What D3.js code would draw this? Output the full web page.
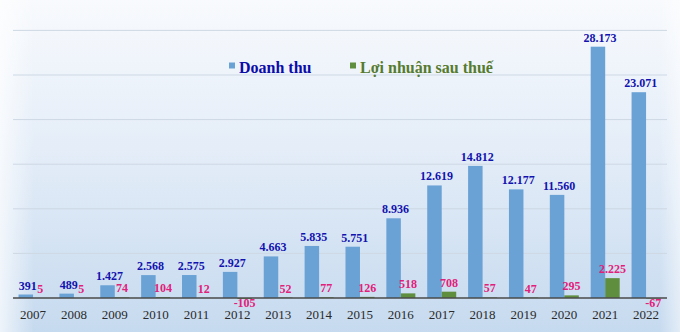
<!DOCTYPE html>
<html><head><meta charset="utf-8">
<script src="https://cdn.jsdelivr.net/npm/d3@7"></script>
<style>html,body{margin:0;padding:0;overflow:hidden;}svg{display:block;}</style>
</head><body>
<script>
const years = ["2007","2008","2009","2010","2011","2012","2013","2014","2015","2016","2017","2018","2019","2020","2021","2022"];
const doanhThu = [391,489,1427,2568,2575,2927,4663,5835,5751,8936,12619,14812,12177,11560,28173,23071];
const loiNhuan = [5,5,74,104,12,-105,52,77,126,518,708,57,47,295,2225,-67];
const gridTicks = [5000,10000,15000,20000,25000,30000];
const seriesNames = ["Doanh thu","Lợi nhuận sau thuế"];

const W = 680, H = 332;
const svg = d3.select("body").append("svg").attr("width", W).attr("height", H);
const defs = svg.append("defs");
const lg = defs.append("linearGradient").attr("id","bg").attr("x1",0).attr("y1",0).attr("x2",0).attr("y2",1);
lg.append("stop").attr("offset","0%").attr("stop-color","#f8fafd");
lg.append("stop").attr("offset","45%").attr("stop-color","#e4edf8");
lg.append("stop").attr("offset","100%").attr("stop-color","#c6daef");
const lh = defs.append("linearGradient").attr("id","bgl").attr("x1",0).attr("y1",0).attr("x2",1).attr("y2",0);
lh.append("stop").attr("offset","0%").attr("stop-color","#ffffff").attr("stop-opacity",0.7);
lh.append("stop").attr("offset","5%").attr("stop-color","#ffffff").attr("stop-opacity",0);
lh.append("stop").attr("offset","97%").attr("stop-color","#ffffff").attr("stop-opacity",0);
lh.append("stop").attr("offset","100%").attr("stop-color","#ffffff").attr("stop-opacity",0.5);
svg.append("rect").attr("width",W).attr("height",H).attr("fill","url(#bg)");
svg.append("rect").attr("width",W).attr("height",H).attr("fill","url(#bgl)");

const x = d3.scaleBand().domain(years).range([12.6, 666.5]).padding(0);
const bw = x.bandwidth();
const xs = d3.scaleBand().domain(["dt","ln"]).range([bw/2-14.5, bw/2+14.5]).padding(0);
const y = d3.scaleLinear().domain([0,30000]).range([298, 30.4]);

const serif = "'Liberation Serif','Times New Roman',Times,serif";

// grid
svg.append("g").selectAll("line").data(gridTicks).join("line")
  .attr("x1",13).attr("x2",667).attr("y1",d=>y(d)).attr("y2",d=>y(d))
  .attr("stroke","#cdd8e4").attr("stroke-width",1);

const data = years.map((yr,i)=>({yr, dt:doanhThu[i], ln:loiNhuan[i]}));

// bars
svg.append("g").selectAll("rect").data(data).join("rect")
  .attr("x",d=>x(d.yr)+xs("dt")).attr("width",xs.bandwidth())
  .attr("y",d=>y(d.dt)).attr("height",d=>y(0)-y(d.dt))
  .attr("fill","#6aa2d6");
svg.append("g").selectAll("rect").data(data).join("rect")
  .attr("x",d=>x(d.yr)+xs("ln")).attr("width",xs.bandwidth())
  .attr("y",d=>y(Math.max(0,d.ln))).attr("height",d=>Math.abs(y(0)-y(d.ln)))
  .attr("fill","#5f8e3e");

// baseline
svg.append("line").attr("x1",13).attr("x2",667).attr("y1",y(0)).attr("y2",y(0))
  .attr("stroke","#4a4a4a").attr("stroke-width",1.5);

const fmt = v => d3.format(",")(v).replace(/,/g,".").replace(/\u2212/g,"-");

// labels
svg.append("g").selectAll("text").data(data).join("text")
  .attr("x",d=>x(d.yr)+xs("dt")+xs.bandwidth()/2+2)
  .attr("y",d=>y(d.dt)-5)
  .attr("text-anchor","middle")
  .attr("font-family",serif)
  .attr("font-weight","bold").attr("font-size",12).attr("fill","#1212ae")
  .text(d=>fmt(d.dt));
svg.append("g").selectAll("text").data(data).join("text")
  .attr("x",d=>x(d.yr)+xs("ln")+xs.bandwidth()/2)
  .attr("y",d=>d.ln>=0 ? y(d.ln)-5 : y(0)+9)
  .attr("text-anchor","middle")
  .attr("font-family",serif)
  .attr("font-weight","bold").attr("font-size",12).attr("fill","#e2207a")
  .text(d=>fmt(d.ln));

// x axis labels
svg.append("g").selectAll("text").data(years).join("text")
  .attr("x",d=>x(d)+bw/2).attr("y",318.5)
  .attr("text-anchor","middle")
  .attr("font-family",serif)
  .attr("font-size",13).attr("fill","#2a2a2a")
  .text(d=>d);

// legend
const leg = [{name:seriesNames[0], c:"#6aa2d6", tc:"#0c0ca8", x:229},{name:seriesNames[1], c:"#5f8e3e", tc:"#567a2e", x:350}];
const lgG = svg.append("g").selectAll("g").data(leg).join("g");
lgG.append("rect").attr("x",d=>d.x).attr("y",62.5).attr("width",6).attr("height",6).attr("fill",d=>d.c);
lgG.append("text").attr("x",d=>d.x+10).attr("y",73)
  .attr("font-family",serif)
  .attr("font-weight","bold").attr("font-size",16).attr("fill",d=>d.tc)
  .text(d=>d.name);
</script>
</body></html>
